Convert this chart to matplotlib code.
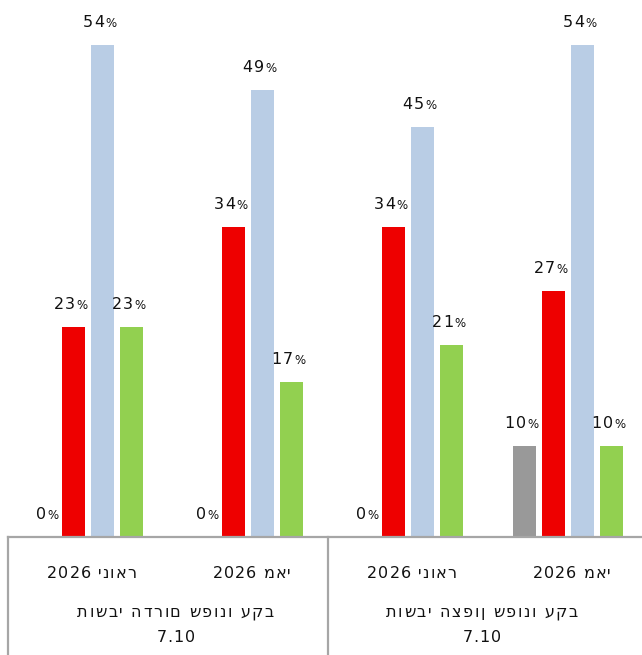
import matplotlib
matplotlib.use("Agg")
import matplotlib.pyplot as plt
import matplotlib.transforms as mtrans
from matplotlib.font_manager import FontProperties, findfont
from matplotlib.ft2font import FT2Font
import numpy as np

# category labels as they appear in the chart
month_names = ["ינואר", "מאי", "ינואר", "מאי"]
year = "2026"
groups = ["תושבי הדרום שפונו עקב", "תושבי הצפון שפונו עקב"]
group_date = "7.10"

gray_vals = [0, 0, 0, 10]
red_vals = [23, 34, 34, 27]
blue_vals = [54, 49, 45, 54]
green_vals = [23, 17, 21, 10]

series = [gray_vals, red_vals, blue_vals, green_vals]
colors = ["#999999", "#EE0000", "#B9CDE5", "#92D050"]

W, H = 642, 655
DPI = 100
fig = plt.figure(figsize=(W / DPI, H / DPI), dpi=DPI)
base_px = 537
left_px, right_px = 7.5, 647.8
ax = fig.add_axes([left_px / W, (H - base_px) / H, (right_px - left_px) / W, base_px / H])

font = FT2Font(findfont(FontProperties(family="DejaVu Sans")))


def spaced_text(x, y, s, size, sp, trans, ha="center", dy=0, dx=0):
    # draw a string glyph by glyph with extra letter spacing (in pixels)
    font.set_size(size, DPI)
    advs = [font.load_char(ord(c)).linearHoriAdvance / 65536 for c in s]
    total = sum(advs) + sp * (len(s) - 1)
    cur = {"center": -total / 2, "right": -total, "left": 0}[ha] + dx
    for c, a in zip(s, advs):
        if c != " ":
            t = mtrans.offset_copy(trans, fig=fig, x=cur, y=dy, units="dots")
            ax.text(x, y, c, transform=t, ha="left", va="baseline",
                    fontsize=size, family="DejaVu Sans", color="#111111")
        cur += a + sp


x = np.arange(len(month_names))
step = 29 / 160
width = 23 / 160
for i, (vals, col) in enumerate(zip(series, colors)):
    pos = x + (i - 1.5) * step
    ax.bar(pos, vals, width=width, color=col, zorder=2)
    for px, v in zip(pos, vals):
        spaced_text(px, v, str(v), 11.5, 1.2, ax.transData, ha="right", dx=2, dy=18)
        spaced_text(px, v, "%", 8.5, 0, ax.transData, ha="left", dx=3, dy=18)

ax.set_xlim(-0.5, 3.5)
ax.set_ylim(0, base_px / 9.12)
for s in ["top", "right", "left"]:
    ax.spines[s].set_visible(False)
ax.spines["bottom"].set_color("#A6A6A6")
ax.spines["bottom"].set_linewidth(1.6)
ax.set_yticks([])
ax.set_xticks([])

trans = ax.get_xaxis_transform()
below = -(H - base_px) / base_px
for xb in [-0.5, 1.5, 3.5]:
    ax.plot([xb, xb], [0, below], transform=trans, color="#A6A6A6", lw=1.6, clip_on=False)


def ypx(p):
    return -(p - base_px) / base_px


for xi, m in zip(x, month_names):
    spaced_text(xi, ypx(578), year + " " + m, 11.5, 1.0, trans, dx=4)

for gi, g in enumerate(groups):
    cx = 0.5 + 2 * gi
    shift = 8 if gi == 0 else -6
    spaced_text(cx, ypx(617), g, 11.5, 1.6, trans, dx=shift)
    spaced_text(cx, ypx(642), group_date, 11.5, 1.0, trans, dx=shift)

fig.savefig("out.png", dpi=DPI)
